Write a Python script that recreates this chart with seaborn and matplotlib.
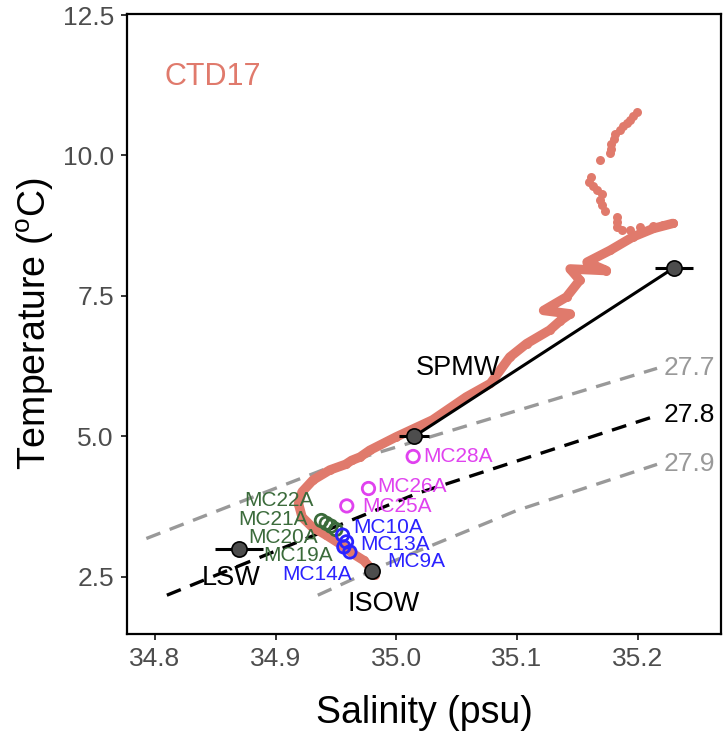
import matplotlib
matplotlib.use("Agg")
import matplotlib.pyplot as plt
import pandas as pd
import seaborn as sns

sns.set_theme(style="white")
plt.rcParams["font.family"] = ["Liberation Sans", "DejaVu Sans"]
plt.rcParams["mathtext.fontset"] = "custom"
plt.rcParams["mathtext.rm"] = "Liberation Sans"

# ---- CTD17 profile: dense lower part (deep -> shallow) ----
ctd_band_sal = [34.982, 34.978, 34.973, 34.964, 34.953, 34.942, 34.930, 34.922,
                34.919, 34.922, 34.931, 34.945, 34.958, 34.963, 34.970, 34.978,
                35.000, 35.030, 35.058, 35.078, 35.094, 35.108, 35.127, 35.136,
                35.144, 35.122, 35.141, 35.152, 35.144, 35.174, 35.158, 35.177,
                35.196, 35.213, 35.229]
ctd_band_temp = [2.53, 2.67, 2.79, 2.91, 3.09, 3.24, 3.39, 3.56,
                 3.80, 4.01, 4.22, 4.40, 4.50, 4.57, 4.63, 4.75,
                 4.99, 5.29, 5.70, 5.94, 6.41, 6.65, 6.89, 7.06,
                 7.18, 7.24, 7.48, 7.78, 7.98, 7.95, 8.10, 8.31,
                 8.55, 8.70, 8.79]

# ---- CTD17 profile: upper samples ----
ctd_upper_sal = [35.199, 35.196, 35.194, 35.191, 35.188, 35.185, 35.181, 35.180,
                 35.178, 35.178, 35.177, 35.169, 35.161, 35.160, 35.163, 35.166,
                 35.170, 35.169, 35.170, 35.173, 35.183, 35.183, 35.183, 35.187,
                 35.194, 35.202, 35.213, 35.221, 35.229]
ctd_upper_temp = [10.77, 10.71, 10.64, 10.58, 10.52, 10.45, 10.39, 10.30,
                  10.21, 10.12, 10.04, 9.92, 9.61, 9.53, 9.45, 9.38,
                  9.32, 9.20, 9.11, 9.02, 8.90, 8.81, 8.72, 8.67,
                  8.67, 8.72, 8.75, 8.77, 8.79]

# ---- isopycnals (sigma-theta) ----
iso_labels = ["27.7", "27.8", "27.9"]
iso277_sal = [34.793, 34.945, 35.216]
iso277_temp = [3.18, 4.45, 6.21]
iso278_sal = [34.810, 35.017, 35.216]
iso278_temp = [2.17, 3.98, 5.37]
iso279_sal = [34.935, 34.989, 35.100, 35.216]
iso279_temp = [2.17, 2.70, 3.68, 4.50]

# ---- water-mass end members ----
em_names = ["LSW", "ISOW", "SPMW", "SPMW"]
em_sal = [34.870, 34.980, 35.015, 35.230]
em_temp = [3.00, 2.60, 5.00, 8.00]
em_sal_err = [0.020, 0.000, 0.0125, 0.016]

# ---- sediment-core samples ----
green_names = ["MC22A", "MC21A", "MC20A", "MC19A"]
green_sal = [34.938, 34.942, 34.946, 34.950]
green_temp = [3.50, 3.45, 3.40, 3.34]

blue_names = ["MC10A", "MC13A", "MC9A", "MC14A"]
blue_sal = [34.9555, 34.9588, 34.9616, 34.9566]
blue_temp = [3.24, 3.12, 2.94, 3.03]

magenta_names = ["MC28A", "MC26A", "MC25A"]
magenta_sal = [35.014, 34.977, 34.959]
magenta_temp = [4.64, 4.07, 3.76]

x_ticks = [34.8, 34.9, 35.0, 35.1, 35.2]
y_ticks = [2.5, 5.0, 7.5, 10.0, 12.5]

CTD_COL = "#E07A6C"
GREEN = "#3B6B3B"
BLUE = "#2B22FF"
MAGENTA = "#E042EF"
GREY = "#999999"

fig = plt.figure(figsize=(7.23, 7.42), dpi=100)
ax = fig.add_axes([0.1757, 0.1456, 0.8216, 0.8356])

# isopycnals
dash = (0, (4.5, 3))
for s, t, c in [(iso277_sal, iso277_temp, GREY),
                (iso278_sal, iso278_temp, "black"),
                (iso279_sal, iso279_temp, GREY)]:
    sns.lineplot(x=s, y=t, sort=False, estimator=None, ax=ax, color=c,
                 linewidth=2.4, linestyle=dash, zorder=1)
for lab, s, t, c in [("27.7", iso277_sal, iso277_temp, GREY),
                     ("27.8", iso278_sal, iso278_temp, "black"),
                     ("27.9", iso279_sal, iso279_temp, GREY)]:
    ax.annotate(lab, (s[-1], t[-1]), xytext=(7, 0), textcoords="offset pixels",
                ha="left", va="center", fontsize=19, color=c, zorder=6)

# CTD17 profile
sns.lineplot(x=ctd_band_sal, y=ctd_band_temp, sort=False, estimator=None, ax=ax,
             color=CTD_COL, linewidth=6.8, solid_capstyle="round",
             solid_joinstyle="round", zorder=2)
sns.scatterplot(x=ctd_band_sal + ctd_upper_sal, y=ctd_band_temp + ctd_upper_temp,
                ax=ax, color=CTD_COL, s=42, linewidth=0, zorder=2)

# SPMW mixing line
spmw = [i for i, n in enumerate(em_names) if n == "SPMW"]
sns.lineplot(x=[em_sal[i] for i in spmw], y=[em_temp[i] for i in spmw],
             sort=False, estimator=None, ax=ax, color="black", linewidth=2.2,
             zorder=3)

# sediment-core samples (open circles) with labels
groups = [
    (green_names, green_sal, green_temp, GREEN,
     [(-42, 20), (-53, 4), (-48, -11), (-38, -26)]),
    (blue_names, blue_sal, blue_temp, BLUE,
     [(46, 8), (49, -3), (66, -10), (-27, -28)]),
    (magenta_names, magenta_sal, magenta_temp, MAGENTA,
     [(45, 0), (43, 2), (50, -1)]),
]
for names, s, t, col, offs in groups:
    sns.scatterplot(x=s, y=t, ax=ax, marker="o", s=80, facecolor="none",
                    edgecolor=col, linewidth=2.0, zorder=4)
    for n, xs, yt, off in zip(names, s, t, offs):
        ax.annotate(n, (xs, yt), xytext=off, textcoords="offset pixels",
                    ha="center", va="center", fontsize=15, color=col, zorder=6)

# end members with salinity error bars
ax.errorbar(em_sal, em_temp, xerr=em_sal_err, fmt="none", ecolor="black",
            elinewidth=2.2, capsize=0, zorder=4)
sns.scatterplot(x=em_sal, y=em_temp, ax=ax, s=120, color="#4D4D4D",
                edgecolor="black", linewidth=1.2, zorder=5)

# end-member names
ax.annotate("LSW", (em_sal[0], em_temp[0]), xytext=(-8, -29),
            textcoords="offset pixels", ha="center", va="center",
            fontsize=19.5, color="black", zorder=6)
ax.annotate("ISOW", (em_sal[1], em_temp[1]), xytext=(12, -33),
            textcoords="offset pixels", ha="center", va="center",
            fontsize=19.5, color="black", zorder=6)
ax.annotate("SPMW", (em_sal[2], em_temp[2]), xytext=(44, 68),
            textcoords="offset pixels", ha="center", va="center",
            fontsize=19.5, color="black", zorder=6)

ax.text(34.8476, 11.40, "CTD17", fontsize=22, color=CTD_COL,
        ha="center", va="center")

ax.set_xlim(34.777, 35.269)
ax.set_ylim(1.48, 12.52)
ax.set_xticks(x_ticks)
ax.set_xticklabels([f"{v:.1f}" for v in x_ticks])
ax.set_yticks(y_ticks)
ax.set_yticklabels([f"{v:.1f}" for v in y_ticks])
ax.tick_params(axis="both", which="major", direction="out", length=4.5,
               width=1.4, color="#333333", labelsize=19, labelcolor="#4D4D4D",
               pad=5, bottom=True, left=True)
for sp in ax.spines.values():
    sp.set_visible(True)
    sp.set_color("black")
    sp.set_linewidth(1.6)
ax.grid(False)
ax.set_facecolor("white")

ax.set_xlabel("Salinity (psu)", fontsize=27, color="black", labelpad=17)
ax.set_ylabel(r"Temperature ($\mathregular{^o}$C)", fontsize=27,
              color="black", labelpad=5)

fig.savefig("out.png", dpi=100, facecolor="white")
